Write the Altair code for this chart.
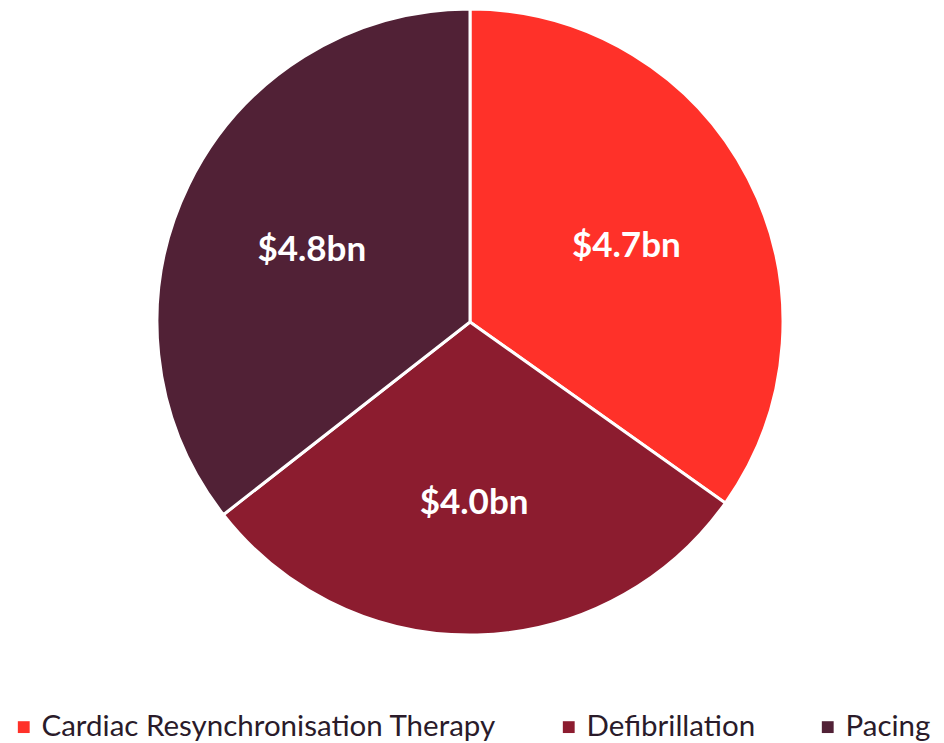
import altair as alt
import pandas as pd

categories = ["Cardiac Resynchronisation Therapy", "Defibrillation", "Pacing"]
values = [4.7, 4.0, 4.8]
labels = ["$4.7bn", "$4.0bn", "$4.8bn"]
colors = ["#FF3129", "#8C1C2F", "#512136"]

df = pd.DataFrame({
    "category": categories,
    "value": values,
    "label": labels,
    "order": list(range(len(categories))),
})

base = alt.Chart(df).encode(
    theta=alt.Theta("value:Q", stack=True),
    order=alt.Order("order:Q"),
    x=alt.value(462),
    y=alt.value(314),
)

pie = base.mark_arc(outerRadius=313, stroke="white", strokeWidth=3).encode(
    color=alt.Color(
        "category:N",
        sort=categories,
        scale=alt.Scale(domain=categories, range=colors),
        legend=alt.Legend(
            title=None,
            orient="none",
            legendX=1,
            legendY=704,
            padding=0,
            direction="horizontal",
            symbolType="square",
            symbolSize=140,
            symbolStrokeWidth=0,
            labelFont="Lato",
            labelFontSize=29.5,
            labelColor="#2A1B2A",
            labelOffset=3,
            columnPadding=57,
            labelLimit=700,
        ),
    )
)

text = base.mark_text(
    radius=176, dy=5, font="Lato", fontSize=35, fontWeight="bold", color="white"
).encode(text="label:N")

chart = (pie + text).properties(
    width=928,
    height=735,
    autosize=alt.AutoSizeParams(type="none"),
    padding=0,
).configure_view(stroke=None)

chart.save("out.html", embed_options={"renderer": "svg", "actions": False})
